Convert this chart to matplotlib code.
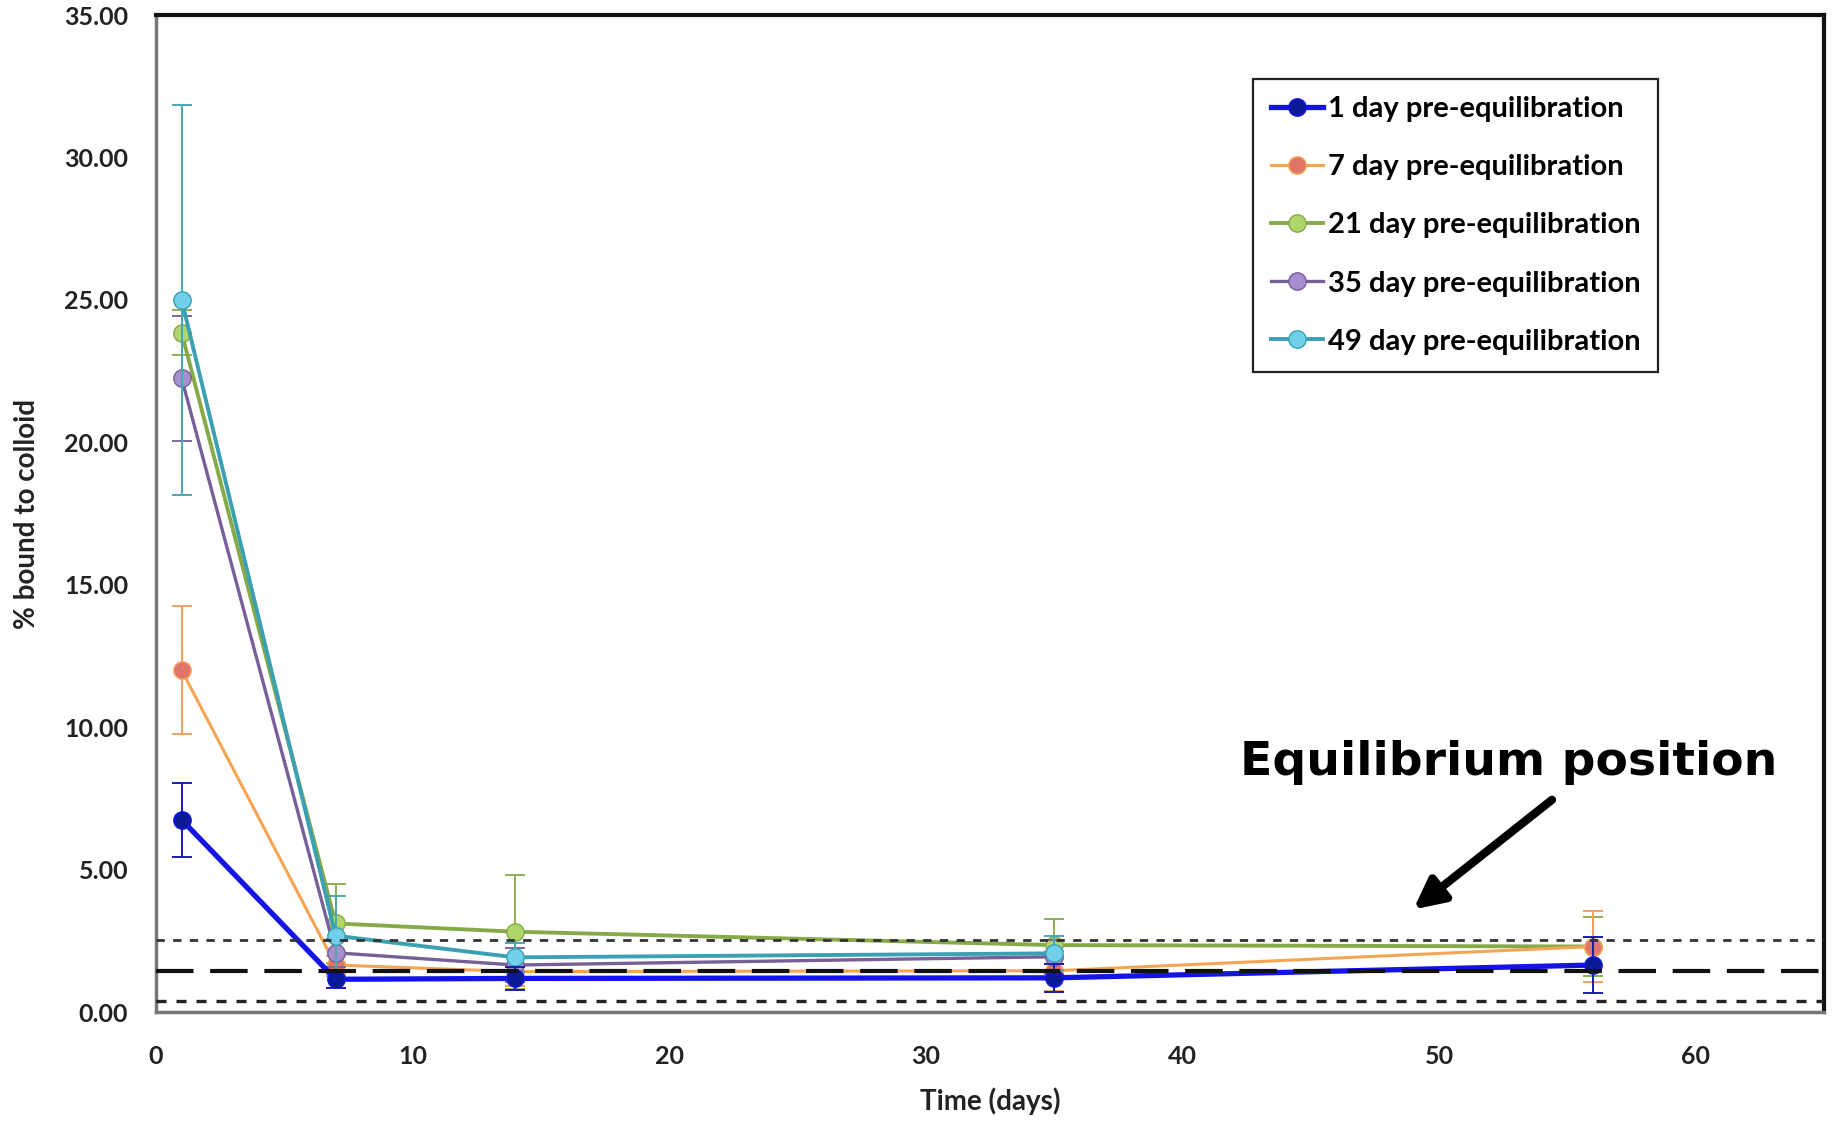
import matplotlib as mpl
mpl.use('Agg')
import matplotlib.pyplot as plt

# data
days = [1, 7, 14, 35, 56]
labels = ['1 day pre-equilibration', '7 day pre-equilibration', '21 day pre-equilibration',
          '35 day pre-equilibration', '49 day pre-equilibration']

y_1d = [6.75, 1.15, 1.18, 1.20, 1.65]
e_1d = [1.30, 0.30, 0.40, 0.50, 0.97]
y_7d = [12.0, 1.65, 1.42, 1.45, 2.30]
e_7d = [2.25, 0.30, 0.50, 0.70, 1.25]
y_21d = [23.85, 3.11, 2.82, 2.35, 2.30]
e_21d = [0.80, 1.40, 2.00, 0.90, 1.05]
y_35d = [22.25, 2.08, 1.65, 1.94]
e_35d = [2.20, 0.50, 0.60, 0.60]
y_49d = [25.0, 2.68, 1.92, 2.06]
e_49d = [6.85, 1.40, 0.50, 0.60]

eq_mean = 1.45
eq_upper = 2.52
eq_lower = 0.38

xticks = [0, 10, 20, 30, 40, 50, 60]
yticks = [0, 5, 10, 15, 20, 25, 30, 35]

series = [
    (y_1d, e_1d, '#1414e6', '#0a1a96', '#1a1ab0', 3.8, 6),
    (y_7d, e_7d, '#f5a552', '#e0766a', '#f0a060', 2.2, 3),
    (y_21d, e_21d, '#86aa48', '#aed66a', '#8fae55', 2.8, 2),
    (y_35d, e_35d, '#785f98', '#a68fcc', '#7c68a0', 2.4, 4),
    (y_49d, e_49d, '#3aa0b2', '#70cfea', '#4aa8b4', 2.8, 5),
]

fam = ['Lato', 'DejaVu Sans']

fig = plt.figure(figsize=(18.37, 11.21), dpi=100)
ax = fig.add_axes([0.0849, 0.0972, 0.908, 0.8894])

handles = []
for (yv, ev, lc, mc, ec, lw, z), lab in zip(series, labels):
    xs = days[:len(yv)]
    ax.errorbar(xs, yv, yerr=ev, fmt='none', ecolor=ec, elinewidth=1.4,
                capsize=7, capthick=1.4, zorder=z - 0.5)
    h, = ax.plot(xs, yv, color=lc, lw=lw, marker='o', markersize=12.5,
                 markerfacecolor=mc, markeredgecolor=lc, markeredgewidth=1.0,
                 label=lab, zorder=z)
    handles.append(h)

# equilibrium band
ax.axhline(eq_mean, color='#111111', lw=3, dashes=(9, 4), zorder=7)
ax.axhline(eq_upper, color='#333333', lw=2, dashes=(3, 3), zorder=7)
ax.axhline(eq_lower, color='#222222', lw=2.4, dashes=(3, 3), zorder=7)

ax.set_xlim(0, 65)
ax.set_ylim(0, 35)
ax.set_xticks(xticks)
ax.set_yticks(yticks)
ax.set_yticklabels(['%.2f' % v for v in yticks])
ax.tick_params(length=0, labelsize=18, labelcolor='#222222')
ax.tick_params(axis='y', pad=20)
ax.tick_params(axis='x', pad=24)
for lbl in ax.get_xticklabels() + ax.get_yticklabels():
    lbl.set_fontweight('bold')
    lbl.set_family(fam)

ax.set_xlabel('Time (days)', fontsize=20, fontweight='bold', family=fam,
              labelpad=14, color='#222222')
ax.set_ylabel('% bound to colloid', fontsize=20, fontweight='bold', family=fam,
              labelpad=17, color='#222222')

for s in ['left', 'bottom']:
    ax.spines[s].set_color('#777777')
    ax.spines[s].set_linewidth(2.5)
for s in ['top', 'right']:
    ax.spines[s].set_color('#111111')
    ax.spines[s].set_linewidth(3)

leg = ax.legend(handles=handles, loc='upper right', bbox_to_anchor=(0.9005, 0.936),
                borderaxespad=0,
                prop={'family': fam, 'weight': 'bold', 'size': 21},
                fancybox=False, edgecolor='#222222', framealpha=1, labelspacing=1.1,
                handlelength=1.8, handletextpad=0.15, borderpad=0.6, markerscale=1.0)
leg.get_frame().set_linewidth(1.6)

ax.text(52.7, 8.75, 'Equilibrium position', fontsize=34, fontweight='bold',
        ha='center', va='center', zorder=10)
ax.annotate('', xy=(49.0, 3.6), xytext=(54.4, 7.45),
            arrowprops=dict(arrowstyle='-|>', color='black', lw=6,
                            mutation_scale=45, shrinkA=0, shrinkB=0),
            zorder=10)

plt.savefig('out.png', dpi=100, facecolor='white')
